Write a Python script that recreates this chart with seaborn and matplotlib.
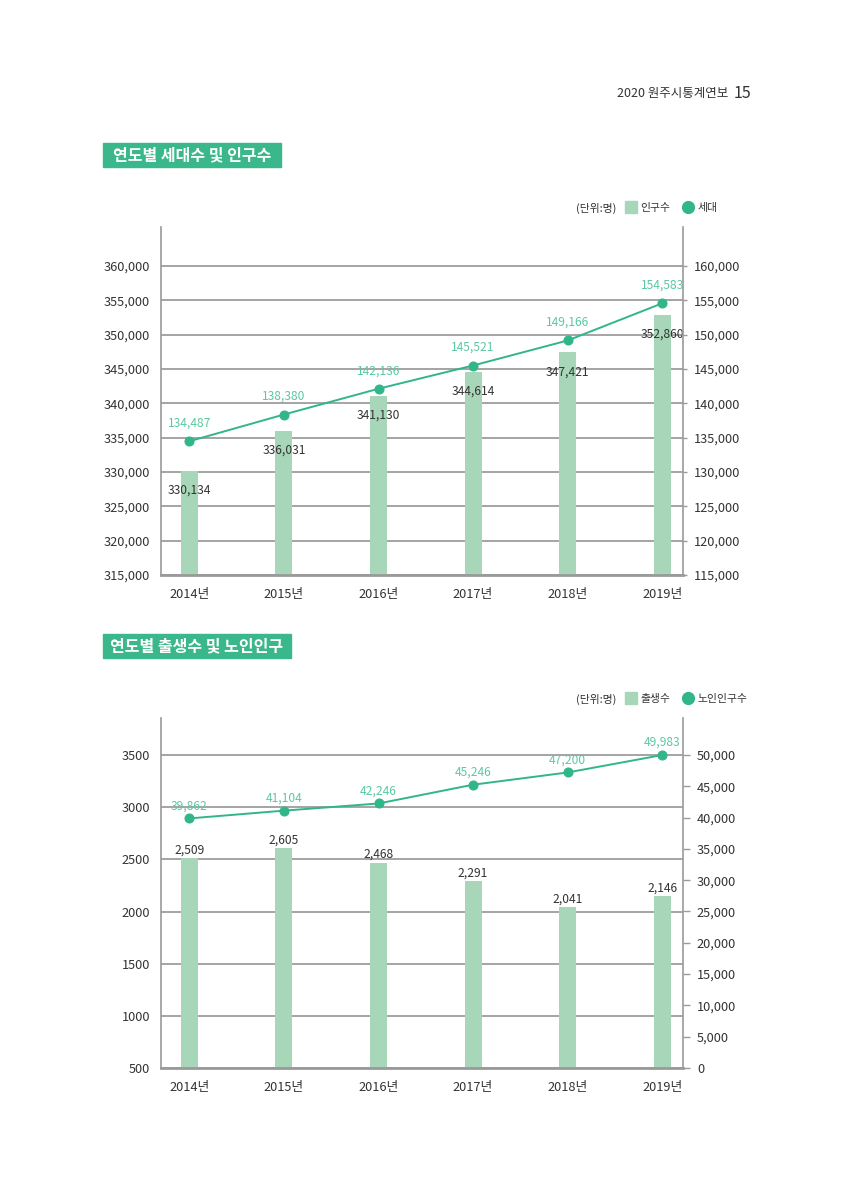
import matplotlib
matplotlib.use("Agg")
import matplotlib.pyplot as plt
import seaborn as sns
import pandas as pd
import numpy as np
from matplotlib.patches import Rectangle
from matplotlib.lines import Line2D
from matplotlib.ticker import FuncFormatter

sns.set_theme(style="white")
plt.rcParams['font.family'] = ['Noto Sans CJK KR', 'DejaVu Sans']

# ---------------- data ----------------
years = ["2014년", "2015년", "2016년", "2017년", "2018년", "2019년"]
population = [330134, 336031, 341130, 344614, 347421, 352860]
households = [134487, 138380, 142136, 145521, 149166, 154583]
births = [2509, 2605, 2468, 2291, 2041, 2146]
elderly = [39862, 41104, 42246, 45246, 47200, 49983]

title1 = "연도별 세대수 및 인구수"
title2 = "연도별 출생수 및 노인인구"
legend1 = ["인구수", "세대"]
legend2 = ["출생수", "노인인구수"]
unit = "(단위:명)"

BAR = "#a7d7b8"
LINE = "#31b68b"
LINE_TXT = "#5cc8a0"
DARK = "#333333"
GRID = "#8c8c8c"
SPINE = "#9a9a9a"
TITLE_BG = "#3bb88b"

W, H = 853, 1200
fig = plt.figure(figsize=(W / 100, H / 100), dpi=100)


def fx(px):
    return px / W


def fy(py):
    return 1 - py / H


comma = FuncFormatter(lambda v, p: f"{int(round(v)):,}")


def draw_chart(top, bottom, bars, line, left_lim, left_ticks, left_fmt,
               right_lim, right_ticks, bar_off, line_off, bar_va, right_ticklen):
    ax = fig.add_axes([fx(161), fy(bottom), fx(683) - fx(161), (bottom - top) / H])
    df = pd.DataFrame({"year": years, "v": bars})
    sns.barplot(data=df, x="year", y="v", color=BAR, width=0.18, ax=ax,
                saturation=1, edgecolor="none")
    ax.set_xlim(-0.3, 5.22)
    ax.set_ylim(*left_lim)
    ax.set_yticks(left_ticks)
    ax.yaxis.set_major_formatter(left_fmt)
    ax.set_axisbelow(True)
    ax.yaxis.grid(True, color=GRID, lw=1.1)
    ax.xaxis.grid(False)
    ax.set_xlabel("")
    ax.set_ylabel("")
    for s in ["top", "right"]:
        ax.spines[s].set_visible(False)
    ax.spines["left"].set_color(SPINE)
    ax.spines["left"].set_linewidth(1.2)
    ax.spines["bottom"].set_color(SPINE)
    ax.spines["bottom"].set_linewidth(2.0)
    ax.tick_params(axis="y", length=0, pad=8, labelsize=9.2, labelcolor=DARK)
    ax.tick_params(axis="x", length=0, pad=9, labelsize=9.2, labelcolor=DARK)

    for i, v in enumerate(bars):
        ax.annotate(f"{v:,}", (i, v), xytext=(0, bar_off), textcoords="offset points",
                    ha="center", va=bar_va, fontsize=8.7, color=DARK)

    ax2 = ax.twinx()
    xs = list(range(len(years)))
    sns.lineplot(x=xs, y=line, ax=ax2, color=LINE, lw=1.4, marker="o",
                 markersize=6.5, markeredgecolor=LINE, markerfacecolor=LINE)
    ax2.set_xlim(-0.3, 5.22)
    ax2.set_ylim(*right_lim)
    ax2.set_yticks(right_ticks)
    ax2.yaxis.set_major_formatter(comma)
    ax2.grid(False)
    for s in ["top", "left", "bottom"]:
        ax2.spines[s].set_visible(False)
    ax2.spines["right"].set_color(SPINE)
    ax2.spines["right"].set_linewidth(1.2)
    ax2.tick_params(axis="y", length=right_ticklen, width=1, color=SPINE, pad=5,
                    labelsize=9.2, labelcolor=DARK)
    for i, v in enumerate(line):
        ax2.annotate(f"{v:,}", (i, v), xytext=(0, line_off), textcoords="offset points",
                     ha="center", va="center", fontsize=8.7, color=LINE_TXT)
    return ax, ax2


# header
fig.text(fx(728), fy(93), "2020 원주시통계연보", ha="right", va="center",
         fontsize=9, color=DARK)
fig.text(fx(734), fy(93), "15", ha="left", va="center", fontsize=11.5, color=DARK)


def title_box(x0, x1, y0, y1, text):
    fig.patches.append(Rectangle((fx(x0), fy(y1)), fx(x1) - fx(x0), (y1 - y0) / H,
                                 transform=fig.transFigure, color=TITLE_BG, zorder=0))
    fig.text(fx((x0 + x1) / 2), fy((y0 + y1) / 2), text, ha="center", va="center",
             fontsize=11.5, fontweight="bold", color="white")


def legend(yc, labels):
    fig.text(fx(616), fy(yc), unit, ha="right", va="center", fontsize=7.8, color=DARK)
    handles = [Line2D([], [], marker="s", color=BAR, lw=0, markersize=8.5),
               Line2D([], [], marker="o", color=LINE, lw=0, markersize=8.5)]
    fig.legend(handles, labels, loc="center left",
               bbox_to_anchor=(fx(626), fy(yc)), ncol=2, frameon=False,
               fontsize=7.8, handlelength=1.0, handletextpad=0.35,
               columnspacing=1.1, borderpad=0, borderaxespad=0, labelcolor=DARK)


title_box(103, 281, 143, 167, title1)
legend(208, legend1)
draw_chart(227, 575, population, households,
           (315000, 365700), np.arange(315000, 360001, 5000), comma,
           (115000, 165700), np.arange(115000, 160001, 5000),
           -14, 13, "center", 3)

title_box(103, 291, 634, 658, title2)
legend(699, legend2)
draw_chart(718, 1068, births, elderly,
           (500, 3856), np.arange(500, 3501, 500),
           FuncFormatter(lambda v, p: f"{int(v)}"),
           (0, 55900), np.arange(0, 50001, 5000),
           6, 9, "center", 5)

fig.savefig("out.png", dpi=100, facecolor="white")
